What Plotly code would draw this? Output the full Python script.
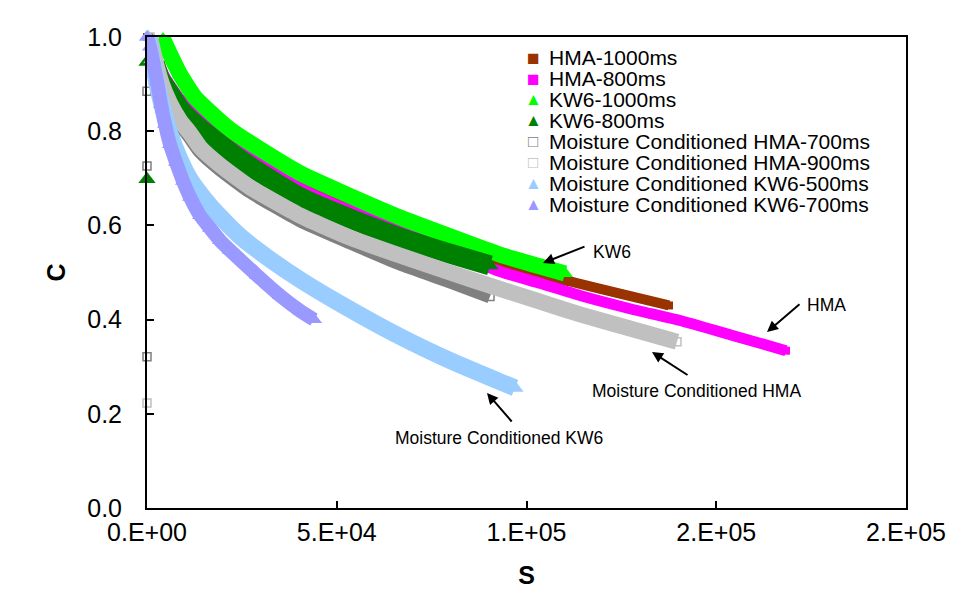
import plotly.graph_objects as go

# ---------------- data ----------------
hma1000_s = [0, 790, 3425, 7378, 13175, 19236, 24506, 32411, 40316, 50856, 66666, 79841, 93016, 103556, 111461, 124636, 137547]
hma1000_c = [1.0, 0.974, 0.928, 0.879, 0.834, 0.796, 0.766, 0.726, 0.687, 0.649, 0.600, 0.557, 0.517, 0.494, 0.481, 0.455, 0.430]

hma800_s = [527, 2108, 4743, 8696, 13175, 19236, 24506, 32411, 40316, 50856, 66666, 79841, 93016, 103556, 114096, 127271, 140446, 153621, 168377]
hma800_c = [1.0, 0.964, 0.915, 0.868, 0.832, 0.789, 0.762, 0.719, 0.679, 0.640, 0.591, 0.545, 0.502, 0.477, 0.451, 0.423, 0.398, 0.368, 0.334]

kw61000_s = [4216, 6060, 8695, 12650, 15810, 21870, 29770, 40320, 50860, 66670, 79840, 93020, 110150]
kw61000_c = [0.996, 0.964, 0.921, 0.872, 0.847, 0.804, 0.762, 0.711, 0.672, 0.617, 0.577, 0.538, 0.498]

kw6800_s = [2108, 3425, 6060, 8696, 13175, 19236, 24506, 32411, 40316, 50856, 66666, 79841, 90380]
kw6800_c = [0.943, 0.911, 0.879, 0.847, 0.811, 0.772, 0.740, 0.698, 0.660, 0.623, 0.574, 0.540, 0.515]
kw6800_out_s = [0, 0]
kw6800_out_c = [0.947, 0.698]

mchma700_s = [790, 2108, 3953, 6060, 8696, 11330, 13965, 19236, 27140, 40316, 53490, 66666, 79841, 90380]
mchma700_c = [0.996, 0.949, 0.894, 0.851, 0.815, 0.787, 0.757, 0.719, 0.672, 0.611, 0.564, 0.519, 0.481, 0.449]
mchma700_out_s = [0, 0, 0]
mchma700_out_c = [0.885, 0.726, 0.321]

mchma900_s = [790, 2108, 3953, 6060, 8696, 11330, 13965, 19236, 27140, 40316, 53490, 66666, 79841, 90380, 103556, 114096, 127271, 139655]
mchma900_c = [1.0, 0.953, 0.900, 0.860, 0.823, 0.796, 0.766, 0.728, 0.681, 0.621, 0.574, 0.536, 0.500, 0.472, 0.438, 0.411, 0.381, 0.353]
mchma900_out_s = [0]
mchma900_out_c = [0.223]

mckw6500_s = [264, 1318, 2635, 4216, 6060, 8696, 11330, 15283, 19236, 24506, 32411, 40316, 50856, 66666, 79841, 93016, 96968]
mckw6500_c = [1.0, 0.953, 0.900, 0.847, 0.794, 0.740, 0.698, 0.655, 0.619, 0.577, 0.528, 0.485, 0.434, 0.364, 0.313, 0.268, 0.255]

mckw6700_s = [0, 790, 1581, 2635, 3689, 4743, 6060, 7642, 9486, 11330, 13965, 16600, 19236, 21870, 28985, 35045, 40316, 44005]
mckw6700_c = [1.0, 0.979, 0.949, 0.906, 0.857, 0.815, 0.772, 0.734, 0.694, 0.660, 0.621, 0.594, 0.568, 0.547, 0.494, 0.451, 0.419, 0.400]

series_names = ["HMA-1000ms", "HMA-800ms", "KW6-1000ms", "KW6-800ms",
                "Moisture Conditioned HMA-700ms", "Moisture Conditioned HMA-900ms",
                "Moisture Conditioned KW6-500ms", "Moisture Conditioned KW6-700ms"]

x_tickvals = [0, 50000, 100000, 150000, 200000]
x_ticktext = ["0.E+00", "5.E+04", "1.E+05", "2.E+05", "2.E+05"]
y_tickvals = [0.0, 0.2, 0.4, 0.6, 0.8, 1.0]

# ---------------- styling ----------------
FONT = "Liberation Sans, Arial, sans-serif"
L, R, T, B = 147, 57, 37, 97
W, H = 963, 605
PW, PH = W - L - R, H - T - B


def px(xp):
    return (xp - L) / PW


def py(yp):
    return (H - B - yp) / PH


styles = [
    # color, symbol, marker size, line width, open
    ("#993300", "square", 8, 10, False),
    ("#FF00FF", "square", 8, 11, False),
    ("#00FF00", "triangle-up", 14, 16, False),
    ("#008000", "triangle-up", 15, 20, False),
    ("#808080", "square-open", 8, 14, True),
    ("#C0C0C0", "square-open", 8, 16, True),
    ("#99CCFF", "triangle-up", 15, 17, False),
    ("#9999FF", "triangle-up", 14, 14, False),
]

data = [
    (hma1000_s, hma1000_c, [], []),
    (hma800_s, hma800_c, [], []),
    (kw61000_s, kw61000_c, [], []),
    (kw6800_s, kw6800_c, kw6800_out_s, kw6800_out_c),
    (mchma700_s, mchma700_c, mchma700_out_s, mchma700_out_c),
    (mchma900_s, mchma900_c, mchma900_out_s, mchma900_out_c),
    (mckw6500_s, mckw6500_c, [], []),
    (mckw6700_s, mckw6700_c, [], []),
]

fig = go.Figure()
for name, (s, c, os_, oc), (col, sym, msz, lw, is_open) in zip(series_names, data, styles):
    fig.add_trace(go.Scatter(
        x=s, y=c, mode="lines", name=name, showlegend=False,
        line=dict(color=col, width=lw, shape="spline", smoothing=0.5),
        hoverinfo="skip"))
    fig.add_trace(go.Scatter(
        x=list(os_) + list(s), y=list(oc) + list(c), mode="markers", name=name,
        showlegend=False, cliponaxis=False,
        marker=dict(color=col, symbol=sym, size=msz,
                    line=dict(color=col, width=1.5 if is_open else 0))))

# ---------------- manual legend (compact line spacing as in the reference) ----------------
legend_glyph = {"square": ("\u25A0", 21), "triangle-up": ("\u25B2", 17), "square-open": ("\u25A1", 17)}
leg_x_sym, leg_x_txt, leg_y0, leg_dy = 533, 547, 57, 21.1
annotations = []
for i, (name, (col, sym, msz, lw, is_open)) in enumerate(zip(series_names, styles)):
    g, gs = legend_glyph[sym]
    yy = leg_y0 + i * leg_dy
    annotations.append(dict(xref="paper", yref="paper", x=px(leg_x_sym), y=py(yy),
                            text=g, showarrow=False, xanchor="center", yanchor="middle",
                            font=dict(family=FONT, size=gs, color=col)))
    annotations.append(dict(xref="paper", yref="paper", x=px(leg_x_txt), y=py(yy),
                            text=name, showarrow=False, xanchor="left", yanchor="middle",
                            font=dict(family=FONT, size=21, color="black")))

# ---------------- labels with arrows ----------------
labels = [("KW6", 591, 252), ("HMA", 805, 305),
          ("Moisture Conditioned HMA", 590, 391), ("Moisture Conditioned KW6", 393, 438)]
for txt, xx, yy in labels:
    annotations.append(dict(xref="paper", yref="paper", x=px(xx), y=py(yy), text=txt,
                            showarrow=False, xanchor="left", yanchor="middle",
                            font=dict(family=FONT, size=17.5, color="black")))
arrows = [((543, 263), (586, 246)), ((767, 332), (801, 303)),
          ((652, 352), (689, 376)), ((487, 393), (513, 423))]
for (hx, hy), (tx, ty) in arrows:
    annotations.append(dict(xref="paper", yref="paper", x=px(hx), y=py(hy), text="",
                            showarrow=True, ax=tx - hx, ay=ty - hy, axref="pixel", ayref="pixel",
                            arrowhead=2, arrowsize=1.1, arrowwidth=2, arrowcolor="black",
                            standoff=0, startstandoff=0))

fig.update_layout(
    width=W, height=H, margin=dict(l=L, r=R, t=T, b=B),
    paper_bgcolor="white", plot_bgcolor="white",
    font=dict(family=FONT, color="black"),
    showlegend=False,
    annotations=annotations,
    xaxis=dict(range=[0, 200000], tickvals=x_tickvals, ticktext=x_ticktext,
               showgrid=False, zeroline=False, showline=True, linecolor="black", linewidth=2,
               mirror=True, ticks="inside", ticklen=7, tickwidth=2, tickcolor="black",
               tickfont=dict(family=FONT, size=25), ticklabelstandoff=1,
               title=dict(text="<b>S</b>", font=dict(family=FONT, size=25), standoff=21)),
    yaxis=dict(range=[0, 1], tickvals=y_tickvals, tickformat=".1f",
               showgrid=False, zeroline=False, showline=True, linecolor="black", linewidth=2,
               mirror=True, ticks="inside", ticklen=7, tickwidth=2, tickcolor="black",
               tickfont=dict(family=FONT, size=25), ticklabelstandoff=18,
               title=dict(text="<b>C</b>", font=dict(family=FONT, size=25), standoff=14)),
)

fig.write_html("out.html")
